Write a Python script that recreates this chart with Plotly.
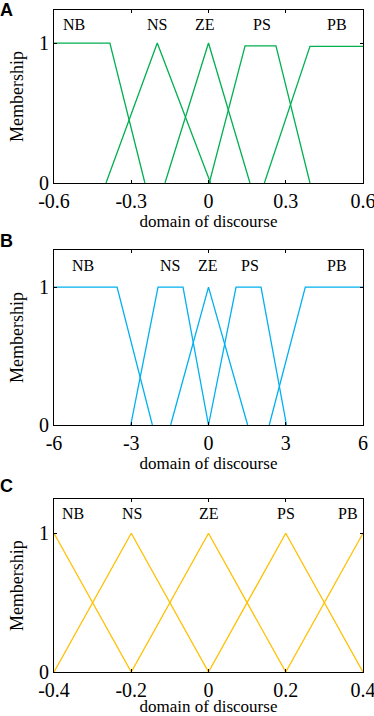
import plotly.graph_objects as go

# ---------------- data ----------------
names = ["NB", "NS", "ZE", "PS", "PB"]

# Panel A membership functions (x breakpoints, y values)
a_x = {
    "NB": [-0.6, -0.383, -0.247],
    "NS": [-0.398, -0.199, 0.008],
    "ZE": [-0.169, 0.0, 0.161],
    "PS": [0.003, 0.142, 0.262, 0.394],
    "PB": [0.217, 0.394, 0.6],
}
a_y = {
    "NB": [1, 1, 0],
    "NS": [0, 1, 0],
    "ZE": [0, 1, 0],
    "PS": [0, 0.98, 0.98, 0],
    "PB": [0, 0.976, 0.976],
}
a_lbl_x = [-0.522, -0.201, -0.013, 0.207, 0.499]

# Panel B
b_x = {
    "NB": [-6, -3.55, -2.18],
    "NS": [-3.02, -1.96, -0.99, 0.0],
    "ZE": [-1.47, 0.0, 1.52],
    "PS": [0.0, 1.07, 2.04, 3.03],
    "PB": [2.36, 3.76, 6],
}
b_y = {
    "NB": [1, 1, 0],
    "NS": [0, 1, 1, 0],
    "ZE": [0, 1, 0],
    "PS": [0, 1, 1, 0],
    "PB": [0, 1, 1],
}
b_lbl_x = [-4.87, -1.51, -0.03, 1.62, 5.0]

# Panel C
c_x = {
    "NB": [-0.4, -0.2],
    "NS": [-0.4, -0.2, 0.0],
    "ZE": [-0.2, 0.0, 0.2],
    "PS": [0.0, 0.2, 0.4],
    "PB": [0.2, 0.4],
}
c_y = {
    "NB": [1, 0],
    "NS": [0, 1, 0],
    "ZE": [0, 1, 0],
    "PS": [0, 1, 0],
    "PB": [0, 1],
}
c_lbl_x = [-0.35, -0.199, 0.0, 0.2, 0.362]

a_ticks = [-0.6, -0.3, 0, 0.3, 0.6]
a_ticktext = ["-0.6", "-0.3", "0", "0.3", "0.6"]
b_ticks = [-6, -3, 0, 3, 6]
b_ticktext = ["-6", "-3", "0", "3", "6"]
c_ticks = [-0.4, -0.2, 0, 0.2, 0.4]
c_ticktext = ["-0.4", "-0.2", "0", "0.2", "0.4"]
y_ticks = [0, 1]
y_ticktext = ["0", "1"]

panel_letters = ["A", "B", "C"]
x_title = "domain of discourse"
y_title = "Membership"

# ---------------- styling ----------------
SERIF = "Liberation Serif"
colors = ["#00B050", "#00B0F0", "#FFC000"]
lbl_y = [1.136, 1.16, 1.146]
y_tops = [1.236, 1.27, 1.245]
domains = [[0.7387, 1.0], [0.3731, 0.6375], [0.0, 0.2609]]
x_title_standoff = [0, 0, 4]

fig = go.Figure()

panels = [
    (a_x, a_y, a_lbl_x, a_ticks, a_ticktext, [-0.6, 0.6]),
    (b_x, b_y, b_lbl_x, b_ticks, b_ticktext, [-6, 6]),
    (c_x, c_y, c_lbl_x, c_ticks, c_ticktext, [-0.4, 0.4]),
]

for i, (px, py, lx, tv, tt, xr) in enumerate(panels):
    xa = "x" if i == 0 else f"x{i+1}"
    ya = "y" if i == 0 else f"y{i+1}"
    for n in names:
        fig.add_trace(go.Scatter(
            x=px[n], y=py[n], mode="lines",
            line=dict(color=colors[i], width=1.3),
            xaxis=xa, yaxis=ya, showlegend=False, hoverinfo="skip",
        ))
    for n, xv in zip(names, lx):
        fig.add_annotation(x=xv, y=lbl_y[i], xref=xa, yref=ya, text=n,
                           showarrow=False, font=dict(family=SERIF, size=16, color="black"))
    axis_common = dict(showline=True, linecolor="black", linewidth=1, mirror="ticks",
                       ticks="inside", ticklen=3, tickcolor="black", showgrid=False,
                       zeroline=False, automargin=False, ticklabeloverflow="allow",
                       tickfont=dict(family=SERIF, size=20, color="black"))
    xkey = "xaxis" if i == 0 else f"xaxis{i+1}"
    ykey = "yaxis" if i == 0 else f"yaxis{i+1}"
    fig.update_layout(**{
        xkey: dict(domain=[0, 1], anchor=ya, range=xr, tickvals=tv, ticktext=tt,
                   title=dict(text=x_title, font=dict(family=SERIF, size=17, color="black"),
                              standoff=x_title_standoff[i]),
                   **axis_common),
        ykey: dict(domain=domains[i], anchor=xa, range=[0, y_tops[i]],
                   tickvals=y_ticks, ticktext=y_ticktext,
                   title=dict(text=y_title, font=dict(family=SERIF, size=18, color="black"),
                              standoff=10),
                   **axis_common),
    })

# panel letters (pixel positions converted to paper coordinates)
H, MT, MB, ML = 716, 10, 44, 54
plot_h = H - MT - MB
letter_px_y = [10, 241, 486]
for L, ypx in zip(panel_letters, letter_px_y):
    fig.add_annotation(x=0, y=(H - MB - ypx) / plot_h, xref="paper", yref="paper",
                       xanchor="left", yanchor="middle", xshift=-ML - 2, text=f"<b>{L}</b>",
                       showarrow=False,
                       font=dict(family="Liberation Sans", size=18, color="black"))

fig.update_layout(
    width=374, height=716,
    margin=dict(l=ML, r=11, t=MT, b=MB, autoexpand=False),
    paper_bgcolor="white", plot_bgcolor="white",
)

fig.write_html("out.html", config={"displayModeBar": False, "staticPlot": True},
               post_script="document.body.style.margin='0';document.body.style.overflow='hidden';")
